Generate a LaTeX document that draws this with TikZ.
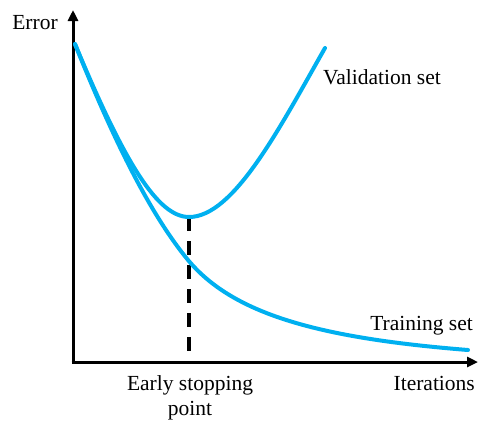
\documentclass[tikz,border=0pt]{standalone}
\usepackage{fontspec}
\setmainfont{Liberation Serif}
\usetikzlibrary{arrows.meta}
\definecolor{curveblue}{RGB}{0,176,240}
\begin{document}
\begin{tikzpicture}[x=1pt,y=-1pt,
  axis/.style={line width=3pt,-{Triangle[length=11pt,width=10pt]}},
  curve/.style={curveblue,line width=4pt,line cap=round,line join=round},
  stopline/.style={line width=3.5pt,dash pattern=on 14pt off 10pt},
  lbl/.style={font=\fontsize{21.5}{25}\selectfont,inner sep=0pt}]
\useasboundingbox (0,0) rectangle (478,421);
% axes
\coordinate (origin) at (73,362);
\coordinate (ytop) at (73,10);
\coordinate (xend) at (478,362);
\draw[axis] (origin) -- (ytop);
\draw[axis] ([xshift=-1.5pt]origin) -- (xend);
% curve end points
\coordinate (start) at (75,44);
\coordinate (vmin) at (189,217);
\coordinate (vend) at (325,48);
\coordinate (tmid) at (188,260);
\coordinate (tend) at (468,350);
% stopping point
\coordinate (stopfoot) at (189,362);
\draw[stopline] (vmin) -- (stopfoot);
% validation curve
\draw[curve] (start) .. controls (125,164) and (158,217) .. (vmin)
  .. controls (234,217) and (280,127) .. (vend);
% training curve
\draw[curve] (start) .. controls (113,139) and (150,214) .. (tmid)
  .. controls (233,314) and (318,338) .. (tend);
% labels
\node[lbl,anchor=base] (err) at (35,29) {Error};
\node[lbl,anchor=base west] (val) at (323,84) {Validation set};
\node[lbl,anchor=base east] (tr) at (473,330) {Training set};
\node[lbl,anchor=base east] (it) at (475,390) {Iterations};
\node[lbl,anchor=base] (es) at (190,390) {Early stopping};
\node[lbl,anchor=base] (pt) at (190,415) {point};
\end{tikzpicture}
\end{document}
